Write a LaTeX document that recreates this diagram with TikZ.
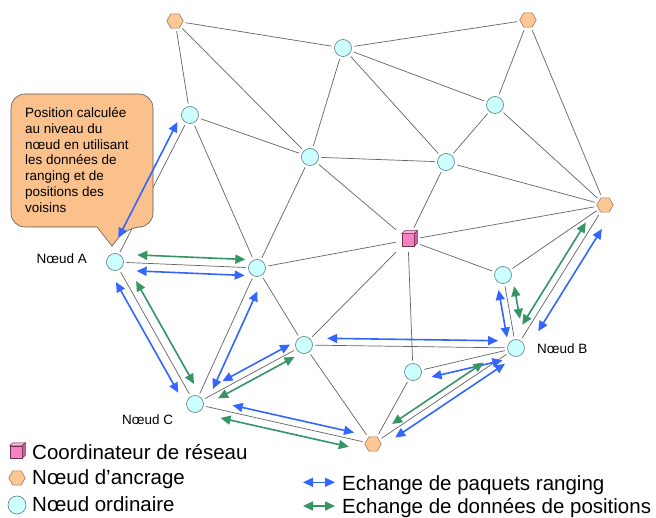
\documentclass[tikz,border=0pt]{standalone}
\usepackage{fontspec}
\setmainfont{Liberation Sans}
\usepackage{xcolor}
\usetikzlibrary{calc, shapes.geometric, arrows.meta}

\definecolor{cerclefond}{RGB}{204,255,255}
\definecolor{cercle}{RGB}{90,125,125}
\definecolor{hexafond}{RGB}{253,200,150}
\definecolor{hexa}{RGB}{160,120,90}
\definecolor{cubefond}{RGB}{245,130,190}
\definecolor{cubehaut}{RGB}{250,175,215}
\definecolor{cubecote}{RGB}{205,95,155}
\definecolor{cubebord}{RGB}{110,50,80}
\definecolor{bullefond}{RGB}{251,193,141}
\definecolor{lien}{RGB}{100,100,100}
\definecolor{bleu}{RGB}{51,102,255}
\definecolor{vert}{RGB}{51,150,100}

\newcommand\petit{\fontsize{13.5}{15.8}\selectfont}
\newcommand\legende{\fontsize{20.5}{24}\selectfont}

\begin{document}
\begin{tikzpicture}[x=1pt, y=-1pt,
  ordinaire/.style={circle, draw=cercle, fill=cerclefond, line width=0.6pt, minimum size=17pt, inner sep=0pt, outer sep=3pt},
  ancrage/.style={regular polygon, regular polygon sides=6, draw=hexa, fill=hexafond, line width=0.6pt, minimum size=16.5pt, inner sep=0pt, outer sep=3pt},
  coordo/.style={rectangle, draw=cubebord, fill=cubefond, line width=0.5pt, minimum size=12.5pt, inner sep=0pt, outer sep=6pt},
  lien/.style={draw=lien, line width=0.7pt},
  echange/.style={line width=1.6pt, {Triangle[length=10pt,width=9pt]}-{Triangle[length=10pt,width=9pt]}},
  bulle/.style={draw=black!65, fill=bullefond, line width=0.6pt},
  etiquette/.style={inner sep=0pt, font=\petit}]
\useasboundingbox[fill=white] (0,0) rectangle (656,518);

% noeuds du reseau
\foreach \nom/\x/\y in {a1/175/21, a2/528/20, a3/605/205, a4/373/444}
  \node[ancrage] (\nom) at (\x,\y) {};
\foreach \nom/\x/\y in {n1/343/48, n2/190/115, n3/495/105, n4/310/157, n5/446/162, n6/257/268, n7/503/275, n8/304/345, n9/413/372, A/115/262, B/516/348, C/195/404}
  \node[ordinaire] (\nom) at (\x,\y) {};
\node[coordo] (K) at (408,240) {};
\foreach \k in {K} {
  \draw[cubebord, line width=0.5pt, fill=cubehaut] ($(\k)+(-6.25,-6.25)$) -- ++(3,-3) -- ++(12.5,0) -- ++(-3,3) -- cycle;
  \draw[cubebord, line width=0.5pt, fill=cubecote] ($(\k)+(6.25,-6.25)$) -- ++(3,-3) -- ++(0,12.5) -- ++(-3,3) -- cycle;
}

% liens
\foreach \a/\b in {a1/n1, a1/n2, a1/n4, n1/a2, n1/n4, n1/n5, n1/n3, a2/n3, a2/a3, n3/n5, n3/a3, n2/n4, n2/A, n2/n6, n4/n5, n4/n6, n4/K, n5/K, n5/a3, K/a3, K/n7, K/n6, K/n8, K/n9, n7/a3, n7/B, B/a3, A/n6, A/C, n6/C, n6/n8, C/n8, C/a4, n8/a4, n8/B, n9/a4, n9/B, a4/B}
  \draw[lien] (\a) -- (\b);

% bulle
\draw[bulle] (97,227) [rounded corners=14pt] -- (11,227) -- (11,94) -- (153,94) -- (153,227) -- (127,227) [sharp corners] -- (112,246) -- cycle;
\node[etiquette, anchor=north west, align=left] (note) at (25,106.2) {\strut Position calculée\\au niveau du\\nœud en utilisant\\les données de\\ranging et de\\positions des\\voisins};

% echanges
\foreach \de/\vers/\dec/\coul/\deb/\fin in {A/n2/8pt/bleu/23pt/12pt, A/n6/8pt/vert/22pt/12pt, A/n6/-8pt/bleu/22pt/12pt, A/C/-9pt/bleu/18pt/18pt, A/C/9pt/vert/27pt/18pt, n6/C/10pt/bleu/21pt/21pt, n8/C/-7pt/bleu/12pt/35pt, n8/C/6pt/vert/14pt/23pt, C/a4/7pt/bleu/37pt/21pt, C/a4/-8pt/vert/28pt/23pt, n8/B/7pt/bleu/23pt/18pt, n9/B/-9pt/bleu/17pt/16pt, a4/B/6pt/vert/27pt/35pt, a4/B/-7pt/bleu/22pt/18pt, n7/B/-7pt/bleu/14pt/12pt, n7/B/9pt/vert/13pt/28pt, a3/B/-7pt/vert/25pt/23pt, a3/B/10pt/bleu/22pt/26pt}
  \draw[echange, color=\coul, shorten <=\deb, shorten >=\fin] ($(\de)!\dec!90:(\vers)$) -- ($(\vers)!\dec!-90:(\de)$);

\node[etiquette, anchor=base east] (labA) at (87,264) {Nœud A};
\node[etiquette, anchor=base west] (labB) at (537,354) {Nœud B};
\node[etiquette, anchor=base west] (labC) at (122,424.3) {Nœud C};

% legende
\node[coordo] (legK) at (16,452) {};
\foreach \k in {legK} {
  \draw[cubebord, line width=0.5pt, fill=cubehaut] ($(\k)+(-6.25,-6.25)$) -- ++(3,-3) -- ++(12.5,0) -- ++(-3,3) -- cycle;
  \draw[cubebord, line width=0.5pt, fill=cubecote] ($(\k)+(6.25,-6.25)$) -- ++(3,-3) -- ++(0,12.5) -- ++(-3,3) -- cycle;
}
\node[ancrage] (legH) at (17,478) {};
\node[ordinaire, minimum size=18pt] (legO) at (17,505) {};
\node[inner sep=0pt, anchor=base west, font=\legende] (txtK) at (32,459) {Coordinateur de réseau};
\node[inner sep=0pt, anchor=base west, font=\legende] (txtH) at (32,484.7) {Nœud d’ancrage};
\node[inner sep=0pt, anchor=base west, font=\legende] (txtO) at (32,511) {Nœud ordinaire};

\coordinate (lb1) at (303,482.3);
\coordinate (lb2) at (335,482.3);
\coordinate (lv1) at (303,506);
\coordinate (lv2) at (335,506);
\draw[echange, bleu] (lb1) -- (lb2);
\draw[echange, vert] (lv1) -- (lv2);
\node[inner sep=0pt, anchor=base west, font=\legende] (txtB) at (342,490.7) {Echange de paquets ranging};
\node[inner sep=0pt, anchor=base west, font=\legende] (txtV) at (342,513.3) {Echange de données de positions};
\end{tikzpicture}
\end{document}
